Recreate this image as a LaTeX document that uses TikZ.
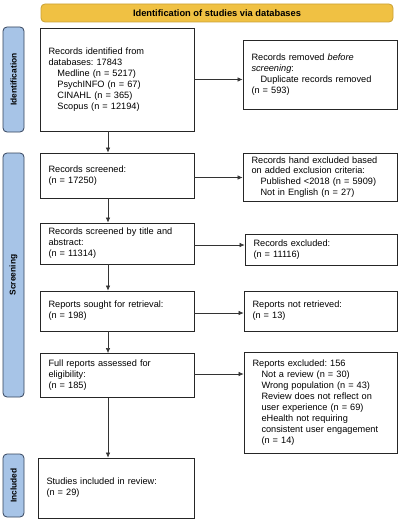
\documentclass[tikz,border=0pt]{standalone}
\usepackage{fontspec}
\setmainfont{Liberation Sans}
\usetikzlibrary{arrows.meta}
\definecolor{hdrfill}{HTML}{F0C143}
\definecolor{hdrdraw}{HTML}{C9A135}
\definecolor{phfill}{HTML}{A7C4E7}
\definecolor{phdraw}{HTML}{34435C}
\frenchspacing
\begin{document}
\begin{tikzpicture}[x=1pt,y=-1pt,
  box/.style={draw=black!85, line width=0.8pt, fill=white, inner xsep=8.5pt, inner ysep=2pt,
    align=left, font=\fontsize{9.2}{10.9}\selectfont, minimum width=154pt},
  hdr/.style={draw=hdrdraw, line width=0.8pt, fill=hdrfill, rounded corners=4pt,
    font=\bfseries\fontsize{9.3}{10}\selectfont, inner sep=0pt},
  phase/.style={draw=phdraw, line width=0.8pt, fill=phfill, rounded corners=4pt,
    rotate=90, font=\bfseries\fontsize{8.4}{9}\selectfont, inner sep=0pt, minimum height=21pt},
  arr/.style={draw=black!80, line width=0.6pt, -{Latex[length=5pt,width=4.5pt]}}]
\useasboundingbox (0,0) rectangle (400,519);
\def\ind{\hspace*{9pt}}

\node[hdr, minimum width=352pt, minimum height=18pt] (hd) at (217,13) {Identification of studies via databases};

\node[phase, minimum width=105pt] (p1) at (13.5,79.5) {Identification};
\node[phase, minimum width=244pt] (p2) at (13.5,275) {Screening};
\node[phase, minimum width=63pt] (p3) at (13.5,485.5) {Included};

\node[box, minimum height=103pt, text width=137pt] (b1) at (117,79.5) {Records identified from\\databases: 17843\\\ind Medline (n = 5217)\\\ind PsychINFO (n = 67)\\\ind CINAHL (n = 365)\\\ind Scopus (n = 12194)};
\node[box, minimum height=69pt, text width=137pt] (r1) at (320,74.5) {Records removed \textit{before}\\\textit{screening}:\\\ind Duplicate records removed\\(n = 593)};

\node[box, minimum height=45pt, text width=137pt] (b2) at (117,175.5) {Records screened:\\(n = 17250)};
\node[box, minimum height=48pt, text width=137pt] (r2) at (320,177) {Records hand excluded based\\on added exclusion criteria:\\\ind Published <2018 (n = 5909)\\\ind Not in English (n = 27)};

\node[box, minimum height=41pt, text width=137pt] (b3) at (117,243.5) {Records screened by title and\\abstract:\\(n = 11314)};
\node[box, minimum height=31pt, minimum width=152pt, text width=135pt] (r3) at (321,249.5) {Records excluded:\\(n = 11116)};

\node[box, minimum height=40pt, text width=137pt] (b4) at (117,311) {Reports sought for retrieval:\\(n = 198)};
\node[box, minimum height=40pt, minimum width=153pt, text width=136pt] (r4) at (320.5,311) {Reports not retrieved:\\(n = 13)};

\node[box, minimum height=44pt, text width=137pt] (b5) at (117,375.5) {Full reports assessed for\\eligibility:\\(n = 185)};
\node[box, minimum height=101pt, minimum width=153pt, text width=136pt] (r5) at (320.5,402.5) {Reports excluded: 156\\\ind Not a review (n = 30)\\\ind Wrong population (n = 43)\\\ind Review does not reflect on\\\ind user experience (n = 69)\\\ind eHealth not requiring\\\ind consistent user engagement\\\ind (n = 14)};

\node[box, minimum height=60pt, minimum width=156pt, text width=139pt] (b6) at (116,488) {Studies included in review:\\(n = 29)};

\coordinate (vx) at (108,0);
\draw[arr] (b1.south -| vx) -- (b2.north -| vx);
\draw[arr] (b2.south -| vx) -- (b3.north -| vx);
\draw[arr] (b3.south -| vx) -- (b4.north -| vx);
\draw[arr] (b4.south -| vx) -- (b5.north -| vx);
\draw[arr] (b5.south -| vx) -- (b6.north -| vx);

\draw[arr] (b1.east) -- (b1.east -| r1.west);
\draw[arr] ([yshift=-2pt]b2.east) -- ([yshift=-2pt]b2.east -| r2.west);
\draw[arr] ([yshift=-1.5pt]b3.east) -- ([yshift=-1.5pt]b3.east -| r3.west);
\draw[arr] ([yshift=-2pt]b4.east) -- ([yshift=-2pt]b4.east -| r4.west);
\draw[arr] ([yshift=1.5pt]b5.east) -- ([yshift=1.5pt]b5.east -| r5.west);
\end{tikzpicture}
\end{document}
